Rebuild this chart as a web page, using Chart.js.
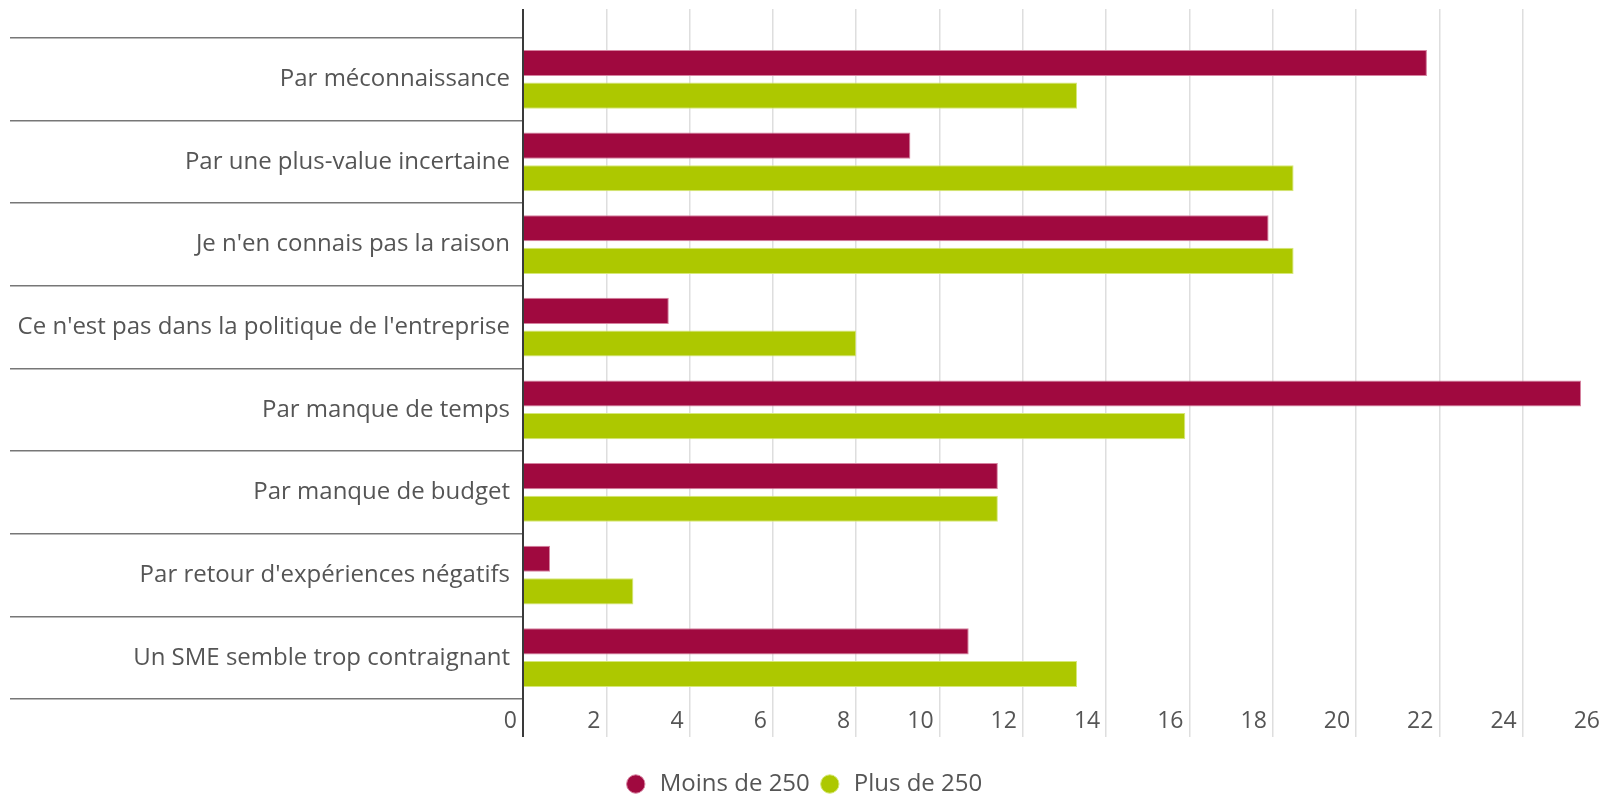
<!DOCTYPE html>
<html>
<head>
<meta charset="utf-8">
<script src="https://cdn.jsdelivr.net/npm/chart.js@4.4.1/dist/chart.umd.min.js"></script>
<style>
  html, body { margin: 0; padding: 0; background: #fff; overflow: hidden; }
  .chart { width: 1612px; height: 796px; }
</style>
</head>
<body>
<div class="chart"><canvas></canvas></div>
<script>
const categories = [
    'Par méconnaissance',
    'Par une plus-value incertaine',
    "Je n'en connais pas la raison",
    "Ce n'est pas dans la politique de l'entreprise",
    'Par manque de temps',
    'Par manque de budget',
    "Par retour d'expériences négatifs",
    'Un SME semble trop contraignant'
]
const seriesNames = ['Moins de 250', 'Plus de 250']
const moins250 = [21.7, 9.3, 17.9, 3.5, 25.4, 11.4, 0.65, 10.7]
const plus250 = [13.3, 18.5, 18.5, 8.0, 15.9, 11.4, 2.65, 13.3]
const xMin = 0
const xMax = 26
const xStep = 2

const canvas = document.querySelector(".chart canvas")
const canvasCtx = canvas.getContext('2d')

Chart.defaults.font.family = "'Open Sans', sans-serif"
Chart.defaults.color = '#555'

// x grid: dark at 0 (continues the y axis line), light elsewhere
const gridColor = c => (c.tick && c.tick.value === 0) ? '#3a3a3a' : '#dedede'
const gridWidth = c => (c.tick && c.tick.value === 0) ? 2 : 1.5

var myChart = new Chart(canvasCtx, {
    type: 'bar',
    data: {
        labels: categories,
        datasets: [{
            label: seriesNames[0],
            data: moins250,
            backgroundColor: '#a0093f',
            borderColor: 'rgba(214, 130, 160, 1)',
            borderWidth: 1
        }, {
            label: seriesNames[1],
            data: plus250,
            backgroundColor: '#adc800',
            borderColor: 'rgba(214, 232, 120, 1)',
            borderWidth: 1
        }]
    },
    options: {
        indexAxis: 'y',
        responsive: true,
        maintainAspectRatio: false,
        animation: false,
        layout: { padding: { top: 9, right: 6, left: 0, bottom: -10 } },
        datasets: { bar: { categoryPercentage: 0.79, barPercentage: 0.8 } },
        scales: {
            x: {
                position: 'bottom',
                min: xMin,
                max: xMax,
                ticks: {
                    stepSize: xStep,
                    align: 'end',
                    padding: -29,
                    color: '#555',
                    font: { size: 23 },
                    callback: v => v + ' '
                },
                grid: { color: gridColor, lineWidth: gridWidth, tickLength: 38 },
                border: { display: false },
                afterFit: s => { s.height = 65 }
            },
            xTop: {
                axis: 'x',
                position: 'top',
                min: xMin,
                max: xMax,
                ticks: { stepSize: xStep, display: false },
                grid: { drawOnChartArea: false, color: gridColor, lineWidth: gridWidth, tickLength: 29 },
                border: { display: false }
            },
            y: {
                ticks: { padding: -500, color: '#555', font: { size: 24 } },
                grid: { drawOnChartArea: false, offset: true, tickLength: 513, color: '#777', lineWidth: 1.6 },
                border: { color: '#3a3a3a', width: 2 },
                afterFit: s => { s.width = 523 }
            }
        },
        plugins: {
            legend: {
                position: 'bottom',
                labels: {
                    usePointStyle: true,
                    pointStyle: 'circle',
                    boxHeight: 13,
                    boxWidth: 24,
                    padding: 8,
                    color: '#555',
                    font: { size: 24 }
                }
            },
            tooltip: { enabled: false }
        }
    }
});
</script>
</body>
</html>
